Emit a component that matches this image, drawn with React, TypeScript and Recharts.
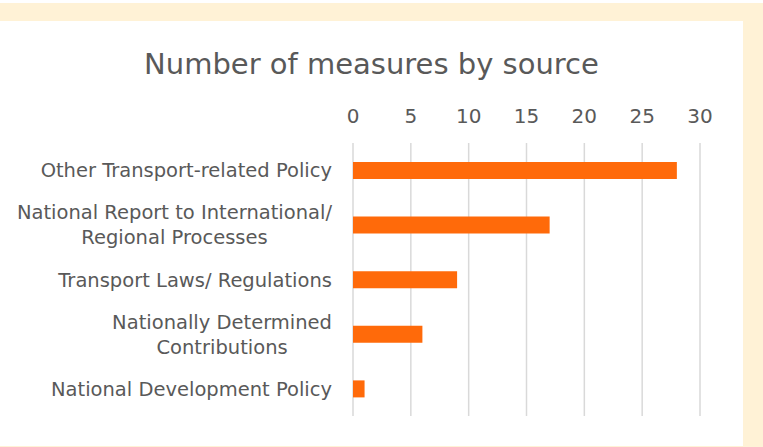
import React from "react";
import { Bar, BarChart, CartesianGrid, XAxis, YAxis } from "recharts";

const categories = [
  "Other Transport-related Policy",
  "National Report to International/ Regional Processes",
  "Transport Laws/ Regulations",
  "Nationally Determined Contributions",
  "National Development Policy",
];
const measures = [28, 17, 9, 6, 1];
const xTicks = [0, 5, 10, 15, 20, 25, 30];

const data = categories.map((name, i) => ({ name, value: measures[i] }));

const textColour = "#595959";
const font = "'DejaVu Sans', sans-serif";
const labelSize = 19.5;

// wrap a label into lines of at most maxChars characters
const wrap = (label: string, maxChars = 33) => {
  const lines: string[] = [];
  let line = "";
  label.split(" ").forEach((word) => {
    const next = line ? line + " " + word : word;
    if (next.length > maxChars && line) {
      lines.push(line);
      line = word;
    } else {
      line = next;
    }
  });
  if (line) lines.push(line);
  return lines;
};

let ctx: CanvasRenderingContext2D | null = null;
const measure = (s: string) => {
  if (!ctx) ctx = document.createElement("canvas").getContext("2d");
  if (!ctx) return s.length * labelSize * 0.55;
  ctx.font = `${labelSize}px 'DejaVu Sans'`;
  return ctx.measureText(s).width;
};

const CategoryTick = ({ x, y, payload }: any) => {
  const lines = wrap(payload.value);
  const lineHeight = 25;
  const right = x - 13;
  const widest = Math.max(...lines.map(measure));
  const centre = right - widest / 2;
  return (
    <text textAnchor="middle" fill={textColour} fontSize={labelSize} fontFamily={font}>
      {lines.map((l, i) => (
        <tspan key={i} x={centre} y={y + 7 + (i - (lines.length - 1) / 2) * lineHeight}>
          {l}
        </tspan>
      ))}
    </text>
  );
};

export default function App() {
  return (
    <div style={{ position: "absolute", left: 0, top: 0, width: 763, height: 447, background: "#fff" }}>
      <div style={{ position: "absolute", left: 0, top: 3, width: 763, height: 444, background: "#FFF2D6" }} />
      <div style={{ position: "absolute", left: 0, top: 21, width: 743, height: 425, background: "#fff" }}>
        <div
          style={{
            position: "absolute",
            left: 0,
            top: 28,
            width: 743,
            textAlign: "center",
            fontFamily: font,
            fontSize: 29,
            lineHeight: "30px",
            color: textColour,
          }}
        >
          Number of measures by source
        </div>
        <div style={{ position: "absolute", left: 0, top: 0 }}>
          <BarChart
            width={743}
            height={425}
            data={data}
            layout="vertical"
            margin={{ top: 92, right: 43, left: 0, bottom: 30 }}
            barCategoryGap={0}
          >
            <CartesianGrid horizontal={false} stroke="#D9D9D9" strokeWidth={1.5} />
            <XAxis
              type="number"
              orientation="top"
              domain={[0, 30]}
              ticks={xTicks}
              axisLine={false}
              tickLine={false}
              tickSize={0}
              tickMargin={20}
              height={30}
              tick={{ fill: textColour, fontSize: 20, fontFamily: font }}
            />
            <YAxis
              type="category"
              dataKey="name"
              width={353}
              axisLine={false}
              tickLine={false}
              tick={<CategoryTick />}
            />
            <Bar dataKey="value" fill="#FF6A0A" barSize={17} isAnimationActive={false} />
          </BarChart>
        </div>
      </div>
    </div>
  );
}
